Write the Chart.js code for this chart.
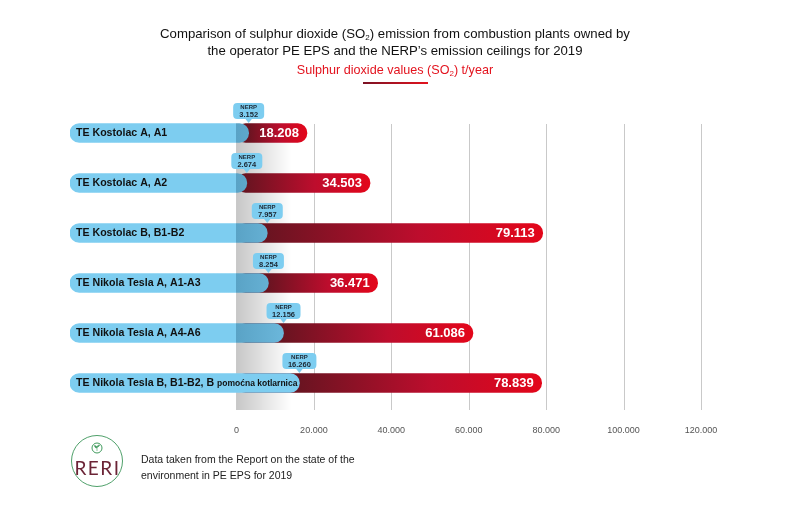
<!DOCTYPE html>
<html>
<head>
<meta charset="utf-8">
<script src="https://cdn.jsdelivr.net/npm/chart.js@4.4.1/dist/chart.umd.min.js"></script>
<style>
  body { margin: 0; background: #fff; font-family: "Liberation Sans", Arial, sans-serif; }
  #wrap { position: relative; width: 790px; height: 518px; overflow: hidden; }
  #chart { position: absolute; left: 0; top: 0; }
  .title { position: absolute; left: 0; width: 790px; top: 25px; text-align: center; font-size: 13.2px; line-height: 17px; color: #111; }
  .subtitle { position: absolute; left: 0; width: 790px; top: 63px; text-align: center; font-size: 12.6px; color: #e3131e; }
  sub { font-size: 8px; line-height: 0; vertical-align: -2px; }
  .underline { position: absolute; left: 363px; top: 82px; width: 65px; height: 2px; background: linear-gradient(to right, #7a1224, #e3131e); }
  .logo { position: absolute; left: 71px; top: 435px; width: 50px; height: 50px; border: 1px solid #4fa06a; border-radius: 50%; }
  .logo span { position: absolute; left: 0; width: 51px; top: 20px; text-align: center; font-size: 19px; letter-spacing: 1.5px; color: #6b2436; font-family: Lato, sans-serif; font-weight: 400; }
  .logo svg { position: absolute; left: 19px; top: 6px; }
  .source { position: absolute; left: 141px; top: 451px; font-size: 10.5px; line-height: 16px; color: #222; }
</style>
</head>
<body>
<div id="wrap">
  <canvas id="chart" width="790" height="518"></canvas>
  <div class="title">Comparison of sulphur dioxide (SO<sub>2</sub>) emission from combustion plants owned by<br>the operator PE EPS and the NERP’s emission ceilings for 2019</div>
  <div class="subtitle">Sulphur dioxide values (SO<sub>2</sub>) t/year</div>
  <div class="underline"></div>
  <div class="logo">
    <svg width="12" height="12" viewBox="0 0 12 12"><circle cx="6" cy="6" r="5" fill="none" stroke="#3f9a5c" stroke-width="1"/><path d="M6 9 V5 M6 6 C4 6 3.5 4.5 3.5 3.5 C5 3.5 6 4.5 6 6 M6 5 C7.5 5 8.5 4 8.5 3 C7 3 6 4 6 5" fill="#3f9a5c" stroke="#3f9a5c" stroke-width="0.6"/></svg>
    <span>RERI</span>
  </div>
  <div class="source">Data taken from the Report on the state of the<br>environment in PE EPS for 2019</div>
</div>
<script>
// plants and values (t/year of SO2)
const plants = [
  'TE Kostolac A, A1',
  'TE Kostolac A, A2',
  'TE Kostolac B, B1-B2',
  'TE Nikola Tesla A, A1-A3',
  'TE Nikola Tesla A, A4-A6',
  'TE Nikola Tesla B, B1-B2, B pomoćna kotlarnica'
];
const emissions = [18208, 34503, 79113, 36471, 61086, 78839];
const nerpCeilings = [3152, 2674, 7957, 8254, 12156, 16260];
const xTicks = [0, 20000, 40000, 60000, 80000, 100000, 120000];

// the blue label pill starts left of zero, inside the plot
const LABEL_START = -43000;
const SMALL_SUFFIX = 'pomoćna kotlarnica';

const fmt = v => v.toLocaleString('de-DE');

const BLUE = '#7dcdf0';

function redFill(ctx) {
  const chart = ctx.chart;
  if (!chart.chartArea) return '#c0102c';
  const i = ctx.dataIndex;
  const x = chart.scales.x;
  const x0 = x.getPixelForValue(nerpCeilings[i]);
  const x1 = x.getPixelForValue(emissions[i]);
  const g = chart.ctx.createLinearGradient(x0, 0, x1, 0);
  g.addColorStop(0, '#6a1421');
  g.addColorStop(0.55, '#bd0d2d');
  g.addColorStop(1, '#e3061a');
  return g;
}

function blueFill(ctx) {
  const chart = ctx.chart;
  if (!chart.chartArea || ctx.dataIndex === plants.length - 1) return BLUE;
  const x = chart.scales.x;
  const z = x.getPixelForValue(0);
  const left = chart.chartArea.left;
  const g = chart.ctx.createLinearGradient(left, 0, z + 50, 0);
  const p = (z - left) / (z + 50 - left);
  g.addColorStop(0, BLUE);
  g.addColorStop(p - 0.001, BLUE);
  g.addColorStop(p, '#5aa3c6');
  g.addColorStop(1, '#6cb8dc');
  return g;
}

const backdrop = {
  id: 'backdrop',
  beforeDatasetsDraw(chart) {
    const { ctx, chartArea, scales } = chart;
    const top = chartArea.top + 16;
    const bottom = chartArea.bottom + 2;
    ctx.save();
    const z = scales.x.getPixelForValue(0);
    const sh = ctx.createLinearGradient(z, 0, z + 55, 0);
    sh.addColorStop(0, 'rgba(0,0,0,0.22)');
    sh.addColorStop(1, 'rgba(0,0,0,0)');
    ctx.fillStyle = sh;
    ctx.fillRect(z, top, 55, bottom - top);
    ctx.strokeStyle = '#c9c9c9';
    ctx.lineWidth = 1;
    xTicks.forEach(v => {
      const px = Math.round(scales.x.getPixelForValue(v)) + 0.5;
      ctx.beginPath();
      ctx.moveTo(px, top);
      ctx.lineTo(px, bottom);
      ctx.stroke();
    });
    ctx.restore();
  },
  afterDatasetsDraw(chart) {
    const { ctx, chartArea, scales } = chart;
    const x = scales.x, y = scales.y;
    ctx.save();
    ctx.textBaseline = 'middle';
    plants.forEach((name, i) => {
      const cy = y.getPixelForValue(i);
      // category label inside the blue pill
      ctx.fillStyle = '#111';
      ctx.textAlign = 'left';
      let lx = chartArea.left + 6;
      let main = name, suffix = '';
      if (name.endsWith(SMALL_SUFFIX)) {
        main = name.slice(0, name.length - SMALL_SUFFIX.length);
        suffix = SMALL_SUFFIX;
      }
      ctx.font = 'bold 10.6px "Liberation Sans", Arial, sans-serif';
      ctx.fillText(main, lx, cy + 0.5);
      if (suffix) {
        lx += ctx.measureText(main).width;
        ctx.font = 'bold 8.5px "Liberation Sans", Arial, sans-serif';
        ctx.fillText(suffix, lx, cy + 1);
      }
      // emission value at the end of the red bar
      ctx.fillStyle = '#fff';
      ctx.textAlign = 'right';
      ctx.font = 'bold 13px "Liberation Sans", Arial, sans-serif';
      ctx.fillText(fmt(emissions[i]), x.getPixelForValue(emissions[i]) - 8, cy + 0.5);
      // NERP callout
      const nx = x.getPixelForValue(nerpCeilings[i]);
      const w = fmt(nerpCeilings[i]).length > 5 ? 34 : 31, h = 16, r = 4;
      const bBottom = cy - 14;
      const bTop = bBottom - h;
      ctx.fillStyle = BLUE;
      ctx.beginPath();
      ctx.roundRect(nx - w / 2, bTop, w, h, r);
      ctx.fill();
      ctx.beginPath();
      ctx.moveTo(nx - 4, bBottom - 1);
      ctx.lineTo(nx + 4, bBottom - 1);
      ctx.lineTo(nx, bBottom + 4);
      ctx.closePath();
      ctx.fill();
      ctx.fillStyle = '#1b2733';
      ctx.textAlign = 'center';
      ctx.font = 'bold 6px "Liberation Sans", Arial, sans-serif';
      ctx.fillText('NERP', nx, bTop + 4.5);
      ctx.font = 'bold 7.5px "Liberation Sans", Arial, sans-serif';
      ctx.fillText(fmt(nerpCeilings[i]), nx, bTop + 11.5);
    });
    ctx.restore();
  }
};

new Chart(document.getElementById('chart'), {
  type: 'bar',
  data: {
    labels: plants,
    datasets: [
      {
        label: 'NERP',
        data: nerpCeilings.map(v => [LABEL_START, v]),
        backgroundColor: blueFill,
        borderRadius: 10,
        borderSkipped: false,
        barThickness: 19,
        grouped: false,
        order: 0
      },
      {
        label: 'Emission',
        data: emissions.map(v => [0, v]),
        backgroundColor: redFill,
        borderRadius: 10,
        borderSkipped: false,
        barThickness: 19,
        grouped: false,
        order: 1
      }
    ]
  },
  options: {
    indexAxis: 'y',
    responsive: false,
    animation: false,
    layout: { padding: { left: 70, right: 89, top: 108, bottom: 70 } },
    plugins: { legend: { display: false }, tooltip: { enabled: false } },
    scales: {
      x: {
        min: LABEL_START,
        max: 120000,
        afterBuildTicks: scale => { scale.ticks = xTicks.map(v => ({ value: v })); },
        afterFit: scale => { scale.height = 40; },
        grid: { display: false, drawTicks: false },
        border: { display: false },
        ticks: {
          callback: v => fmt(v),
          color: '#555',
          font: { size: 9, family: '"Liberation Sans", Arial, sans-serif' },
          padding: 17,
          maxRotation: 0
        }
      },
      y: { display: false, offset: true }
    }
  },
  plugins: [backdrop]
});
</script>
</body>
</html>
